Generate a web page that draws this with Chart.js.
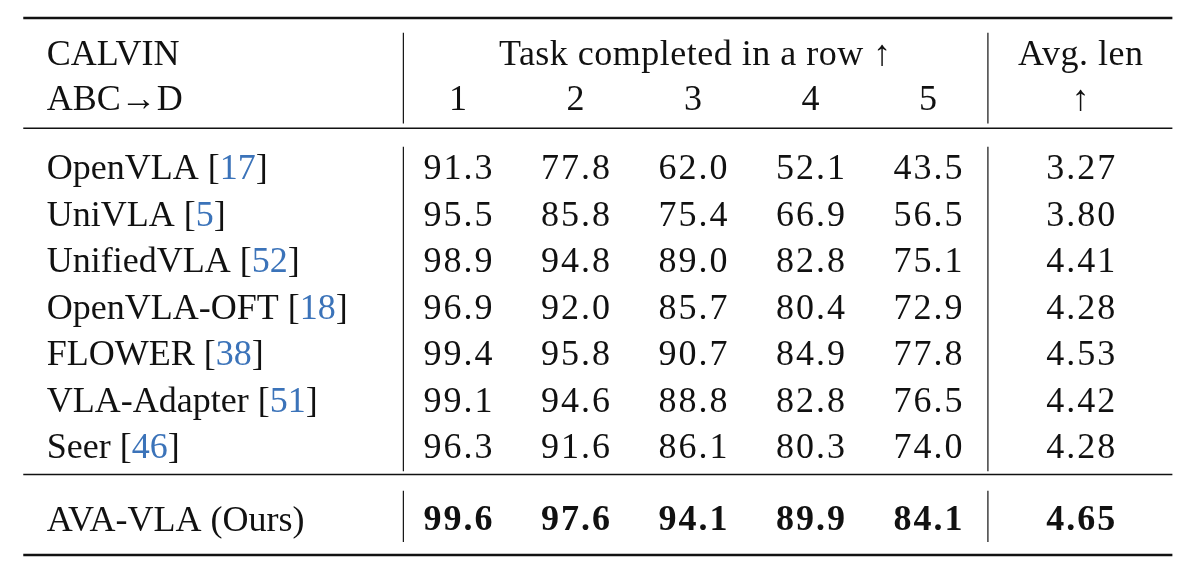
<!DOCTYPE html>
<html><head><meta charset="utf-8">
<script src="https://cdn.jsdelivr.net/npm/chart.js@4"></script>
<style>html,body{margin:0;background:#fff}#w{width:1196px;height:574px}</style>
</head><body><div id="w"><canvas id="c"></canvas></div>
<script>
const methods = ["OpenVLA","UniVLA","UnifiedVLA","OpenVLA-OFT","FLOWER","VLA-Adapter","Seer"];
const cites = ["17","5","52","18","38","51","46"];
const taskCols = ["1","2","3","4","5"];
const s1 = [91.3,95.5,98.9,96.9,99.4,99.1,96.3];
const s2 = [77.8,85.8,94.8,92.0,95.8,94.6,91.6];
const s3 = [62.0,75.4,89.0,85.7,90.7,88.8,86.1];
const s4 = [52.1,66.9,82.8,80.4,84.9,82.8,80.3];
const s5 = [43.5,56.5,75.1,72.9,77.8,76.5,74.0];
const avgLen = [3.27,3.80,4.41,4.28,4.53,4.42,4.28];
const ours = {name:"AVA-VLA (Ours)", vals:[99.6,97.6,94.1,89.9,84.1], avg:4.65};
const series = [s1,s2,s3,s4,s5];

const tablePlugin = {
  id:'table',
  afterDraw(chart){
    const ctx = chart.ctx, X = chart.scales.x, Y = chart.scales.y;
    const px = v => X.getPixelForValue(v), py = v => Y.getPixelForValue(v);
    const F = '36px "Liberation Serif"', FB = 'bold 36px "Liberation Serif"';
    const num = (t,x,y)=>{ctx.letterSpacing='2px';ctx.fillText(t,x+1,y);ctx.letterSpacing='0px';};
    ctx.save();
    ctx.fillStyle = '#111'; ctx.strokeStyle = '#111';
    ctx.textBaseline = 'middle';
    const hline = (y,w)=>{ctx.lineWidth=w;ctx.beginPath();ctx.moveTo(px(-2.7),py(y));ctx.lineTo(px(7.08),py(y));ctx.stroke();};
    hline(-3.27,2.5); hline(-0.9,1.5); hline(6.55,1.5); hline(8.28,2.5);
    const vline=(x,a,b)=>{ctx.lineWidth=1.2;ctx.beginPath();ctx.moveTo(px(x),py(a));ctx.lineTo(px(x),py(b));ctx.stroke();};
    for (const x of [0.535,5.51]){ vline(x,-2.95,-1.0); vline(x,-0.5,6.55-0.07); vline(x,6.55+0.35,8.0); }
    ctx.font = F; ctx.textAlign='left';
    ctx.fillText("CALVIN", px(-2.5), py(-2.47));
    ctx.fillText("ABC\u2192D", px(-2.5), py(-1.5));
    ctx.textAlign='center';
    ctx.letterSpacing='0.5px';
    ctx.fillText("Task completed in a row \u2191", px(3.02), py(-2.47));
    ctx.fillText("Avg. len", px(6.3), py(-2.47));
    ctx.letterSpacing='0px';
    taskCols.forEach((t,i)=>ctx.fillText(t, px(i+1), py(-1.5)));
    ctx.fillText("\u2191", px(6.3), py(-1.5));
    methods.forEach((m,r)=>{
      ctx.textAlign='left'; ctx.font=F;
      let x = px(-2.5);
      const a = m+" [", b = cites[r], c = "]";
      ctx.fillStyle='#111'; ctx.fillText(a,x,py(r)); x+=ctx.measureText(a).width;
      ctx.fillStyle='#3b73b9'; ctx.fillText(b,x,py(r)); x+=ctx.measureText(b).width;
      ctx.fillStyle='#111'; ctx.fillText(c,x,py(r));
      ctx.textAlign='center';
      series.forEach((s,i)=>num(s[r].toFixed(1), px(i+1), py(r)));
      num(avgLen[r].toFixed(2), px(6.3), py(r));
    });
    const ry = 7.55;
    ctx.textAlign='left'; ctx.font=F; ctx.fillText(ours.name, px(-2.5), py(ry));
    ctx.textAlign='center'; ctx.font=FB;
    ours.vals.forEach((v,i)=>num(v.toFixed(1), px(i+1), py(ry)));
    num(ours.avg.toFixed(2), px(6.3), py(ry));
    ctx.restore();
  }
};

new Chart(document.getElementById('c'), {
  type:'scatter',
  data:{datasets:[{data:[], pointRadius:0}]},
  options:{
    responsive:true, maintainAspectRatio:false, animation:false,
    layout:{padding:0},
    plugins:{legend:{display:false}, tooltip:{enabled:false}},
    scales:{
      x:{type:'linear', display:false, min:-2.898, max:7.281},
      y:{type:'linear', display:false, reverse:true, min:-3.656, max:8.688}
    }
  },
  plugins:[tablePlugin]
});
</script></body></html>
